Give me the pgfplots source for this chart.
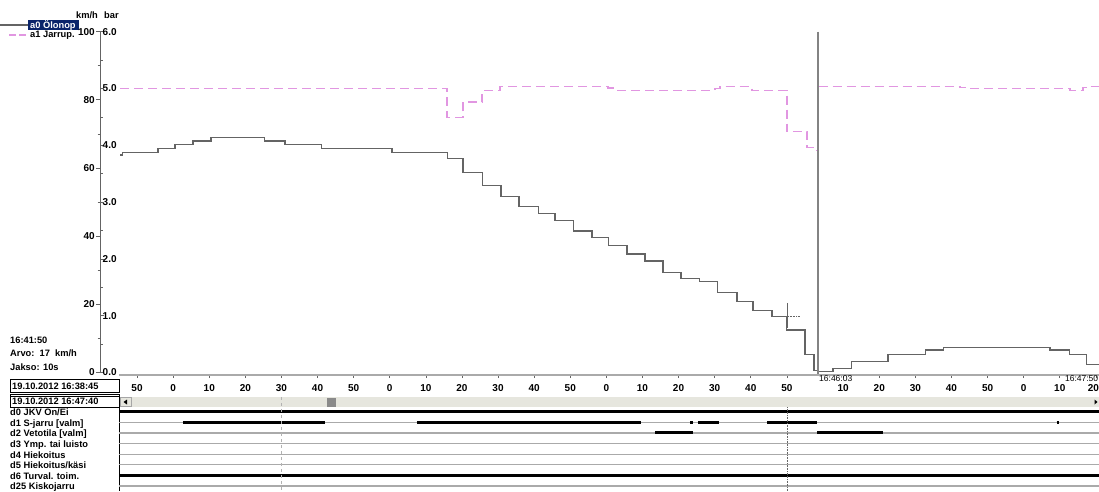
\documentclass[border=0pt]{standalone}
\usepackage{pgfplots}
\pgfplotsset{compat=1.18}
\usepackage{fontspec}
\setmainfont{Liberation Sans}
\definecolor{spd}{RGB}{100,100,100}
\definecolor{prs}{RGB}{225,150,225}
\definecolor{navy}{RGB}{10,36,106}
\definecolor{sbar}{RGB}{230,230,222}
\definecolor{chan}{RGB}{170,170,170}
\newcommand{\tf}{\bfseries\fontsize{9.3}{10}\selectfont}
\begin{document}
\begin{tikzpicture}
\useasboundingbox (0pt,0pt) rectangle (1099pt,491pt);

\begin{scope}[x=1pt,y=1pt]
% ---------- legend and info texts ----------
\draw[spd, line width=1.2pt] (0,466) -- (28,466);
\fill[navy] (28,461) rectangle (79,470.5);
\node[anchor=west, inner sep=0pt, text=white] at (30,465.8) {\tf a0 Ölonop};
\draw[prs, line width=1.2pt, dash pattern=on 7pt off 3pt] (9,456) -- (28,456);
\node[anchor=west, inner sep=0pt] at (30,455.8) {\tf a1 Jarrup.};
\node[anchor=west, inner sep=0pt] at (76,476) {\tf km/h};
\node[anchor=west, inner sep=0pt] at (104,476) {\tf bar};

\node[anchor=west, inner sep=0pt] at (10,151) {\tf 16:41:50};
\node[anchor=west, inner sep=0pt] at (10,137.7) {\tf Arvo:\ \ 17\ \ km/h};
\node[anchor=west, inner sep=0pt] at (10,124.3) {\tf Jakso: 10s};

% ---------- date boxes, scrollbar, channel labels ----------
\draw[black, line width=0.8pt] (10,98.3) rectangle (119,112);
\node[anchor=west, inner sep=0pt] at (12,105) {\tf 19.10.2012 16:38:45};
\draw[black, line width=0.8pt] (10,83.5) rectangle (119,96.5);
\draw[black, line width=0.6pt] (10,95.2) -- (119,95.2);
\node[anchor=west, inner sep=0pt] at (12,89.5) {\tf 19.10.2012 16:47:40};
\fill[sbar] (120,84) rectangle (1099,94);
\draw[gray!70, line width=0.6pt] (120.5,84.5) rectangle (131,93.5);
\fill[black] (123.5,89) -- (127,91.5) -- (127,86.5) -- cycle;
\fill[gray!85!black!80] (327,84.5) rectangle (336,93.5);
\fill[black] (1097.5,89) -- (1094.5,91.5) -- (1094.5,86.5) -- cycle;
\draw[black, line width=0.6pt] (119,83) -- (119,0);
\foreach \lab/\yy in {{d0 JKV On/Ei}/78.7,{d1 S-jarru [valm]}/67.3,{d2 Vetotila [valm]}/56.5,{d3 Ymp. tai luisto}/46,{d4 Hiekoitus}/35.5,{d5 Hiekoitus/käsi}/25.3,{d6 Turval. toim.}/15.3,{d25 Kiskojarru}/4.3}
  \node[anchor=west, inner sep=0pt] at (10,\yy) {\tf \lab};
\end{scope}

% ---------- speed axis (km/h) ----------
\begin{axis}[
  at={(100pt,118.5pt)}, anchor=south west, scale only axis,
  width=999pt, height=340.8pt,
  xmin=-5.263, xmax=271.47, ymin=0, ymax=100,
  axis x line=none, axis y line*=left,
  y axis line style={draw=spd, line width=1pt},
  ytick={0,20,...,100}, minor ytick={10,30,...,90},
  tick align=outside, major tick length=4pt, minor tick length=2.5pt,
  every tick/.style={draw=spd, line width=0.8pt},
  /pgf/number format/assume math mode=true,
  yticklabel style={font=\bfseries\fontsize{10}{11}\selectfont, inner sep=1pt},
  clip=false,
]
\addplot[const plot, spd, line width=1.2pt] coordinates {
(0.4,63.8) (0.9,64.6) (10.8,65.8) (15.5,67.0) (20.5,67.9) (25.5,68.9)
(40.2,67.9) (46.0,67.0) (56.0,65.8) (75.6,64.6) (90.9,62.9) (95.3,58.7)
(100.6,54.8) (105.8,51.6) (110.8,48.7) (116.1,46.7) (120.8,44.5) (126.0,41.5)
(131.0,39.6) (135.7,37.2) (140.7,34.8) (145.7,32.7) (150.7,29.4) (155.7,27.6)
(160.9,26.6) (165.7,23.5) (171.2,20.8) (175.6,18.3) (180.9,16.4) (185.0,12.5)
(190.0,5.4) (192.5,0.7) (193.4,0.2) (197.8,1.2) (203.0,3.2) (213.0,5.3)
(223.3,6.6) (228.3,7.4) (257.9,6.6) (263.4,5.3) (268.1,2.4) (271.47,2.4)};
\draw[spd, line width=0.6pt] (axis cs:185,20.4) -- (axis cs:185,13.1);
\draw[spd, line width=0.6pt, densely dotted] (axis cs:180.9,16.4) -- (axis cs:188.6,16.4);
\end{axis}

% ---------- pressure axis (bar) ----------
\begin{axis}[
  at={(100pt,118.5pt)}, anchor=south west, scale only axis,
  width=999pt, height=340.8pt,
  xmin=-5.263, xmax=271.47, ymin=0, ymax=6,
  axis x line=none, axis y line*=left,
  y axis line style={draw=spd, line width=1pt},
  ytick={0,1,...,6}, minor ytick={0.5,1.5,...,5.5},
  tick align=inside, major tick length=4pt, minor tick length=2.5pt,
  every tick/.style={draw=spd, line width=0.8pt},
  /pgf/number format/assume math mode=true,
  yticklabel={\pgfmathprintnumber[fixed,fixed zerofill,precision=1]{\tick}},
  yticklabel style={font=\bfseries\fontsize{10}{11}\selectfont, anchor=west, inner sep=0pt, xshift=2.5pt},
  clip=false,
]
\addplot[const plot, prs, line width=1.4pt, dash pattern=on 9pt off 5pt] coordinates {
(0.3,5.00) (90.9,4.49) (95.3,4.76) (100.6,4.96) (105.5,5.03) (135.5,5.01)
(137.0,4.97) (165.1,5.00) (166.5,5.03) (175.3,4.97) (185.0,4.24) (190.6,3.96)
(192.8,3.91) (193.5,3.91)};
\addplot[const plot, prs, line width=1.4pt, dash pattern=on 9pt off 5pt] coordinates {
(193.8,5.04) (233.0,5.02) (234.5,5.00) (263.4,4.97) (267.0,5.02) (268.0,5.04) (271.47,5.04)};
\draw[spd!80, line width=1.3pt] (axis cs:193.6,6) -- (axis cs:193.6,-0.045);
\end{axis}

% ---------- time axis ----------
\begin{axis}[
  at={(119pt,116pt)}, anchor=south west, scale only axis,
  width=980pt, height=1pt,
  xmin=0, xmax=271.47, ymin=0, ymax=1,
  axis x line*=bottom, axis y line=none,
  x axis line style={draw=chan, line width=1.2pt},
  xtick={5,15,25,35,45,55,65,75,85,95,105,115,125,135,145,155,165,175,185,200.6,210.6,220.6,230.6,240.6,250.6,260.6,270.6},
  xticklabels={50,0,10,20,30,40,50,0,10,20,30,40,50,0,10,20,30,40,50,10,20,30,40,50,0,10,{\hspace{-5pt}20}},
  tick align=outside, major tick length=3pt,
  every tick/.style={draw=spd, line width=0.7pt},
  /pgf/number format/assume math mode=true,
  xticklabel style={font=\bfseries\fontsize{10}{11}\selectfont, yshift=-2.5pt},
  clip=false,
]
\addplot[draw=none] coordinates {(0,0) (271,0)};
\node[anchor=west, inner sep=0pt] at (axis cs:193.9,-3.2) {\fontsize{8.5}{9}\selectfont 16:46:03};
\node[anchor=east, inner sep=0pt] at (axis cs:271.3,-3.2) {\fontsize{8.5}{9}\selectfont 16:47:50};
\end{axis}

% ---------- digital channels ----------
\begin{axis}[
  at={(119pt,0pt)}, anchor=south west, scale only axis,
  width=980pt, height=83pt,
  xmin=0, xmax=271.47, ymin=-0.35, ymax=7.48, y dir=reverse,
  hide axis, clip=false,
]
\addplot[chan, line width=1.2pt] coordinates {(0,1) (271.47,1)};
\addplot[chan, line width=1.2pt] coordinates {(0,2) (271.47,2)};
\addplot[chan, line width=1.2pt] coordinates {(0,3) (271.47,3)};
\addplot[chan, line width=1.2pt] coordinates {(0,4) (271.47,4)};
\addplot[chan, line width=1.2pt] coordinates {(0,5) (271.47,5)};
\addplot[chan, line width=1.2pt] coordinates {(0,7) (271.47,7)};
\addplot[black, line width=3pt] coordinates {(0,0) (271.47,0)};
\addplot[black, line width=3pt] coordinates {(0,6) (271.47,6)};
% d1
\addplot[black, line width=3pt] coordinates {(17.7,1) (57.1,1)};
\addplot[black, line width=3pt] coordinates {(82.5,1) (144.6,1)};
\addplot[black, line width=3pt] coordinates {(158.3,1) (159.1,1)};
\addplot[black, line width=3pt] coordinates {(160.4,1) (166.2,1)};
\addplot[black, line width=3pt] coordinates {(179.5,1) (193.4,1)};
\addplot[black, line width=3pt] coordinates {(259.7,1) (260.5,1)};
% d2
\addplot[black, line width=3pt] coordinates {(148.5,2) (159.0,2)};
\addplot[black, line width=3pt] coordinates {(193.4,2) (211.6,2)};
\draw[gray!60, line width=0.6pt, dashed] (axis cs:44.9,-1.39) -- (axis cs:44.9,7.48);
\draw[gray!80!black, line width=0.6pt, densely dotted] (axis cs:185,-0.44) -- (axis cs:185,7.48);
\end{axis}
\end{tikzpicture}
\end{document}
